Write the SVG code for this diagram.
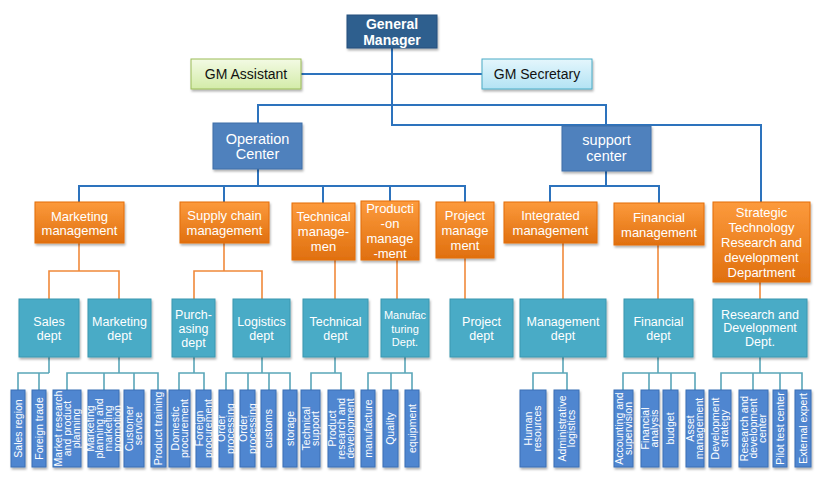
<svg xmlns="http://www.w3.org/2000/svg" width="820" height="481" viewBox="0 0 820 481">
<defs>
<linearGradient id="gOr" x1="0" y1="0" x2="0" y2="1"><stop offset="0" stop-color="#fc9a3c"/><stop offset="1" stop-color="#e0700f"/></linearGradient>
<linearGradient id="gGr" x1="0" y1="0" x2="0" y2="1"><stop offset="0" stop-color="#f3fae4"/><stop offset="1" stop-color="#d3eba8"/></linearGradient>
<linearGradient id="gCy" x1="0" y1="0" x2="0" y2="1"><stop offset="0" stop-color="#e4f6fc"/><stop offset="1" stop-color="#b3e3f4"/></linearGradient>
<filter id="sh" x="-20%" y="-20%" width="140%" height="140%"><feDropShadow dx="1" dy="2" stdDeviation="1" flood-color="#000" flood-opacity="0.3"/></filter>
</defs>
<style>
text{font-family:"Liberation Sans",Arial,sans-serif;fill:#fff;text-anchor:middle}
.gm rect{fill:#2f5e8e;stroke:#25507c;stroke-width:1}
.gm text{font-size:14px;font-weight:bold}
.ast rect{fill:url(#gGr);stroke:#9bbb59}
.sec rect{fill:url(#gCy);stroke:#4bacc6}
.ast text,.sec text{fill:#111;font-size:14px}
.ctr rect{fill:#4f81bd;stroke:#3f6fa8}
.ctr text{font-size:14.5px}
.org rect{fill:url(#gOr);stroke:#e46c0a}
.org text{font-size:13px}
.tl rect{fill:#4aabc6;stroke:#3b97b0}
.tl text{font-size:12.5px}
.lf rect{fill:#4f86d0;stroke:#3b6fb5}
.lf text{font-size:10.5px}
rect{filter:url(#sh)}
.cb path{stroke:#2d73bd;stroke-width:2;fill:none}
.co path{stroke:#f0893a;stroke-width:1.6;fill:none}
.ct path{stroke:#5aa6b8;stroke-width:1.6;fill:none}
</style>

<g id="connectors">
<g class="cb">
<path d="M392 48V125H761V202"/>
<path d="M258 123V105H606V126"/>
<path d="M301 74H482"/>
<path d="M258 169V186"/>
<path d="M79 202V186H465V202"/>
<path d="M224 186V202M323 186V203M390 186V201"/>
<path d="M606 171V186"/>
<path d="M550 202V186H659V203"/>
</g>
<g class="co">
<path d="M79 243V271"/><path d="M49 299V271H119V299"/>
<path d="M224 243V271"/><path d="M194 299V271H262V299"/>
<path d="M335 260V299"/>
<path d="M397 260V299"/>
<path d="M465 258V299"/>
<path d="M563 243V299"/>
<path d="M658 245V299"/>
<path d="M760 282V299"/>
</g>
<g class="ct">
<path d="M49 357V373"/><path d="M18 390V373H49"/><path d="M39 373V390"/>
<path d="M119 357V373"/><path d="M67 390V373H158V390"/><path d="M104 373V390M134 373V390"/>
<path d="M194 357V373"/><path d="M179 390V373H204V390"/>
<path d="M262 357V373"/><path d="M226 390V373H290V390"/><path d="M248 373V390M269 373V390"/>
<path d="M335 357V373"/><path d="M311 390V373H341V390"/>
<path d="M405 357V373"/><path d="M368 390V373H412V390"/><path d="M391 373V390"/>
<path d="M563 357V373"/><path d="M533 390V373H567V390"/>
<path d="M658 357V373"/><path d="M623 390V373H695V390"/><path d="M649 373V390M671 373V390"/>
<path d="M760 357V373"/><path d="M721 390V373H802V390"/><path d="M753 373V390M780 373V390"/>
</g>
</g>

<g id="gm" class="gm"><rect x="347" y="15" width="90" height="33"/><text x="392" y="28.5">General</text><text x="392" y="44.5">Manager</text></g>
<g id="gm-assistant" class="ast"><rect x="191" y="59" width="110" height="30"/><text x="246" y="79">GM Assistant</text></g>
<g id="gm-secretary" class="sec"><rect x="482" y="59" width="110" height="30"/><text x="537" y="79">GM Secretary</text></g>

<g id="operation-center" class="ctr"><rect x="213" y="123" width="89" height="46"/><text x="257.5" y="143.5">Operation</text><text x="257.5" y="159">Center</text></g>
<g id="support-center" class="ctr"><rect x="562" y="126" width="89" height="45"/><text x="606.5" y="145">support</text><text x="606.5" y="161">center</text></g>

<g id="marketing-mgmt" class="org"><rect x="35" y="202" width="89" height="41"/><text x="79.5" y="220.5">Marketing</text><text x="79.5" y="235">management</text></g>
<g id="supply-chain-mgmt" class="org"><rect x="180" y="202" width="89" height="41"/><text x="224.5" y="220">Supply chain</text><text x="224.5" y="235">management</text></g>
<g id="technical-mgmt" class="org"><rect x="292" y="203" width="63" height="57"/><text x="323.5" y="221">Technical</text><text x="323.5" y="236">manage-</text><text x="323.5" y="251">men</text></g>
<g id="production-mgmt" class="org"><rect x="361" y="201" width="58" height="59"/><text x="390" y="212.7">Producti</text><text x="390" y="227.7">-on</text><text x="390" y="242.7">manage</text><text x="390" y="257.7">-ment</text></g>
<g id="project-mgmt" class="org"><rect x="436" y="202" width="58" height="56"/><text x="465" y="219.5">Project</text><text x="465" y="234.5">manage</text><text x="465" y="249.5">ment</text></g>
<g id="integrated-mgmt" class="org"><rect x="504" y="202" width="93" height="41"/><text x="550.5" y="220">Integrated</text><text x="550.5" y="235">management</text></g>
<g id="financial-mgmt" class="org"><rect x="614" y="203" width="90" height="42"/><text x="659" y="221.5">Financial</text><text x="659" y="236.5">management</text></g>
<g id="strategic-tech" class="org"><rect x="713" y="202" width="97" height="80"/><text x="761.5" y="216.5">Strategic</text><text x="761.5" y="231.5">Technology</text><text x="761.5" y="246.5">Research and</text><text x="761.5" y="261.5">development</text><text x="761.5" y="276.5">Department</text></g>

<g id="sales-dept" class="tl"><rect x="19" y="299" width="60" height="58"/><text x="49" y="326">Sales</text><text x="49" y="340">dept</text></g>
<g id="marketing-dept" class="tl"><rect x="88" y="299" width="63" height="58"/><text x="119.5" y="326">Marketing</text><text x="119.5" y="340">dept</text></g>
<g id="purchasing-dept" class="tl"><rect x="172" y="299" width="43" height="58"/><text x="193.5" y="318.5">Purch-</text><text x="193.5" y="332.5">asing</text><text x="193.5" y="346.5">dept</text></g>
<g id="logistics-dept" class="tl"><rect x="233" y="299" width="57" height="58"/><text x="261.5" y="326">Logistics</text><text x="261.5" y="340">dept</text></g>
<g id="technical-dept" class="tl"><rect x="303" y="299" width="65" height="58"/><text x="335.5" y="325.5">Technical</text><text x="335.5" y="339.5">dept</text></g>
<g id="manufacturing-dept" class="tl"><rect x="381" y="299" width="48" height="58"/><text x="405" y="319" style="font-size:11px">Manufac</text><text x="405" y="332.5" style="font-size:11px">turing</text><text x="405" y="346" style="font-size:11px">Dept.</text></g>
<g id="project-dept" class="tl"><rect x="450" y="299" width="63" height="58"/><text x="481.5" y="326">Project</text><text x="481.5" y="340">dept</text></g>
<g id="management-dept" class="tl"><rect x="520" y="299" width="86" height="58"/><text x="563" y="326">Management</text><text x="563" y="340">dept</text></g>
<g id="financial-dept" class="tl"><rect x="624" y="299" width="69" height="58"/><text x="658.5" y="326">Financial</text><text x="658.5" y="340">dept</text></g>
<g id="rd-dept" class="tl"><rect x="713" y="299" width="94" height="58"/><text x="760" y="318.5">Research and</text><text x="760" y="332">Development</text><text x="760" y="346">Dept.</text></g>

<g id="leaf-sales-region" class="lf"><rect x="11" y="390" width="14" height="77"/><text transform="translate(18 428.5) rotate(-90)" y="3.7">Sales region</text></g>
<g id="leaf-foreign-trade" class="lf"><rect x="32" y="390" width="14" height="77"/><text transform="translate(39 428.5) rotate(-90)" y="3.7">Foreign trade</text></g>
<g id="leaf-market-research" class="lf"><rect x="53" y="390" width="28" height="77"/><text transform="translate(67 428.5) rotate(-90)"><tspan x="0" y="-5.3">Market research</tspan><tspan x="0" y="3.7">and product</tspan><tspan x="0" y="12.7">planning</tspan></text></g>
<g id="leaf-marketing-planning" class="lf"><rect x="88" y="390" width="31" height="77"/><text transform="translate(103.5 428.5) rotate(-90)"><tspan x="0" y="-9.8">Marketing</tspan><tspan x="0" y="-0.8">planning and</tspan><tspan x="0" y="8.2">marketing</tspan><tspan x="0" y="17.2">promotion</tspan></text></g>
<g id="leaf-customer-service" class="lf"><rect x="124" y="390" width="20" height="77"/><text transform="translate(134 428.5) rotate(-90)"><tspan x="0" y="-0.8">Customer</tspan><tspan x="0" y="8.2">service</tspan></text></g>
<g id="leaf-product-training" class="lf"><rect x="151" y="390" width="15" height="77"/><text transform="translate(158.5 428.5) rotate(-90)" y="3.7">Product training</text></g>
<g id="leaf-domestic-procurement" class="lf"><rect x="169" y="390" width="21" height="77"/><text transform="translate(179.5 428.5) rotate(-90)"><tspan x="0" y="-0.8">Domestic</tspan><tspan x="0" y="8.2">procurement</tspan></text></g>
<g id="leaf-foreign-procurement" class="lf"><rect x="196" y="390" width="15" height="77"/><text transform="translate(203.5 428.5) rotate(-90)"><tspan x="0" y="-0.8">Foreign</tspan><tspan x="0" y="8.2">procurement</tspan></text></g>
<g id="leaf-order-processing-1" class="lf"><rect x="219" y="390" width="14" height="77"/><text transform="translate(226 428.5) rotate(-90)"><tspan x="0" y="-0.8">Order</tspan><tspan x="0" y="8.2">processing</tspan></text></g>
<g id="leaf-order-processing-2" class="lf"><rect x="240" y="390" width="15" height="77"/><text transform="translate(247.5 428.5) rotate(-90)"><tspan x="0" y="-0.8">Order</tspan><tspan x="0" y="8.2">processing</tspan></text></g>
<g id="leaf-customs" class="lf"><rect x="261" y="390" width="15" height="77"/><text transform="translate(268.5 428.5) rotate(-90)" y="3.7">customs</text></g>
<g id="leaf-storage" class="lf"><rect x="283" y="390" width="14" height="77"/><text transform="translate(290 428.5) rotate(-90)" y="3.7">storage</text></g>
<g id="leaf-technical-support" class="lf"><rect x="301" y="390" width="19" height="77"/><text transform="translate(310.5 428.5) rotate(-90)"><tspan x="0" y="-0.8">Technical</tspan><tspan x="0" y="8.2">support</tspan></text></g>
<g id="leaf-product-rd" class="lf"><rect x="328" y="390" width="26" height="77"/><text transform="translate(341 428.5) rotate(-90)"><tspan x="0" y="-5.3">Product</tspan><tspan x="0" y="3.7">research and</tspan><tspan x="0" y="12.7">development</tspan></text></g>
<g id="leaf-manufacture" class="lf"><rect x="361" y="390" width="14" height="77"/><text transform="translate(368 428.5) rotate(-90)" y="3.7">manufacture</text></g>
<g id="leaf-quality" class="lf"><rect x="383" y="390" width="15" height="77"/><text transform="translate(390.5 428.5) rotate(-90)" y="3.7">Quality</text></g>
<g id="leaf-equipment" class="lf"><rect x="405" y="390" width="14" height="77"/><text transform="translate(412 428.5) rotate(-90)" y="3.7">equipment</text></g>
<g id="leaf-human-resources" class="lf"><rect x="520" y="390" width="26" height="77"/><text transform="translate(533 428.5) rotate(-90)"><tspan x="0" y="-0.8">Human</tspan><tspan x="0" y="8.2">resources</tspan></text></g>
<g id="leaf-admin-logistics" class="lf"><rect x="554" y="390" width="25" height="77"/><text transform="translate(566.5 428.5) rotate(-90)"><tspan x="0" y="-0.8">Administrative</tspan><tspan x="0" y="8.2">logistics</tspan></text></g>
<g id="leaf-accounting" class="lf"><rect x="614" y="390" width="19" height="77"/><text transform="translate(623.5 428.5) rotate(-90)"><tspan x="0" y="-0.8">Accounting and</tspan><tspan x="0" y="8.2">supervision</tspan></text></g>
<g id="leaf-financial-analysis" class="lf"><rect x="641" y="390" width="18" height="77"/><text transform="translate(650 428.5) rotate(-90)"><tspan x="0" y="-0.8">Financial</tspan><tspan x="0" y="8.2">analysis</tspan></text></g>
<g id="leaf-budget" class="lf"><rect x="663" y="390" width="15" height="77"/><text transform="translate(670.5 428.5) rotate(-90)" y="3.7">budget</text></g>
<g id="leaf-asset-management" class="lf"><rect x="686" y="390" width="18" height="77"/><text transform="translate(695 428.5) rotate(-90)"><tspan x="0" y="-0.8">Asset</tspan><tspan x="0" y="8.2">management</tspan></text></g>
<g id="leaf-development-strategy" class="lf"><rect x="709" y="390" width="22" height="77"/><text transform="translate(720 428.5) rotate(-90)"><tspan x="0" y="-0.8">Development</tspan><tspan x="0" y="8.2">strategy</tspan></text></g>
<g id="leaf-rd-center" class="lf"><rect x="739" y="390" width="29" height="77"/><text transform="translate(753.5 428.5) rotate(-90)"><tspan x="0" y="-5.3">Research and</tspan><tspan x="0" y="3.7">development</tspan><tspan x="0" y="12.7">center</tspan></text></g>
<g id="leaf-pilot-test" class="lf"><rect x="773" y="390" width="14" height="77"/><text transform="translate(780 428.5) rotate(-90)" y="3.7">Pilot test center</text></g>
<g id="leaf-external-expert" class="lf"><rect x="795" y="390" width="16" height="77"/><text transform="translate(803 428.5) rotate(-90)" y="3.7">External expert</text></g>
</svg>
